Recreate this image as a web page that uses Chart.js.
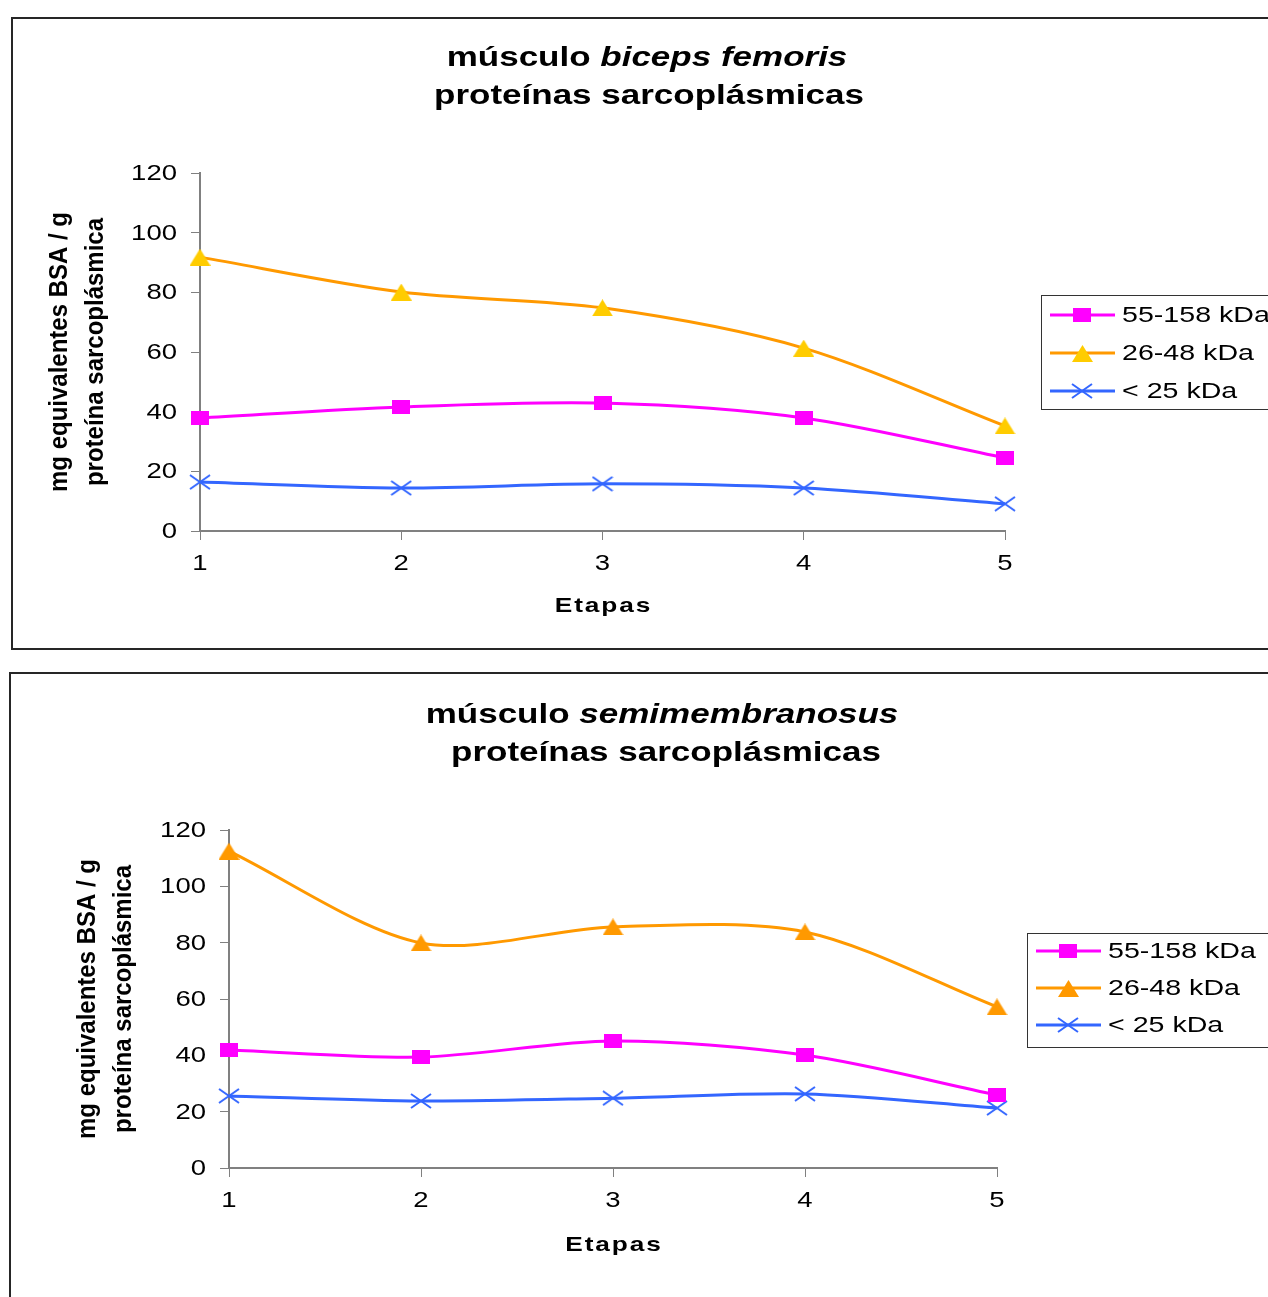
<!DOCTYPE html>
<html>
<head>
<meta charset="utf-8">
<script src="https://cdn.jsdelivr.net/npm/chart.js@4/dist/chart.umd.min.js"></script>
<style>
  html, body { margin: 0; padding: 0; background: #fff; overflow: hidden; }
  body { width: 1268px; height: 1297px; position: relative; }
  .box { position: absolute; border: 2px solid #262626; background: #fff; }
  canvas { position: absolute; left: 0; }
</style>
</head>
<body>
<div class="box" style="left:11px; top:17px; width:1300px; height:629px;"></div>
<div class="box" style="left:9px; top:672px; width:1300px; height:700px;"></div>
<canvas id="chartTop" style="top:0px"></canvas>
<canvas id="chartBottom" style="top:660px"></canvas>
<script>
// etapas (eje x)
const etapas = ['1', '2', '3', '4', '5'];
const seriesNames = ['55-158 kDa', '26-48 kDa', '< 25 kDa'];
const yTicks = [0, 20, 40, 60, 80, 100, 120];

// biceps femoris
const bf_55_158 = [37.9, 41.6, 42.9, 37.9, 24.5];
const bf_26_48 = [91.8, 80.1, 74.8, 61.3, 35.2];
const bf_25 = [16.4, 14.4, 15.8, 14.4, 9.1];

// semimembranosus
const sm_55_158 = [41.9, 39.4, 45.1, 40.1, 25.9];
const sm_26_48 = [112.5, 79.9, 85.6, 83.8, 57.2];
const sm_25 = [25.6, 23.8, 24.8, 26.3, 21.3];

const FONT = "'Liberation Sans', Arial, sans-serif";
const SX = 1.25; // el original está estirado en horizontal

// marcadores (algo más anchos que altos, como en el original)
function marker(kind, color) {
  const c = document.createElement('canvas');
  const g = c.getContext('2d');
  if (kind === 'square') {
    c.width = 18; c.height = 14;
    g.fillStyle = color; g.fillRect(0, 0, 18, 14);
  } else if (kind === 'tri') {
    c.width = 21; c.height = 17;
    g.fillStyle = color;
    g.beginPath(); g.moveTo(10.5, 0); g.lineTo(21, 17); g.lineTo(0, 17); g.closePath(); g.fill();
  } else {
    c.width = 22; c.height = 16;
    g.strokeStyle = color; g.lineWidth = 2;
    g.beginPath(); g.moveTo(1, 1); g.lineTo(21, 15); g.moveTo(21, 1); g.lineTo(1, 15); g.stroke();
  }
  return c;
}

function makeDatasets(a, b, c, triColor) {
  return [
    { label: seriesNames[0], data: a, borderColor: '#FF00FF', backgroundColor: '#FF00FF',
      pointStyle: marker('square', '#FF00FF'), clip: false },
    { label: seriesNames[1], data: b, borderColor: '#FF9900', backgroundColor: triColor,
      pointStyle: marker('tri', triColor), clip: false },
    { label: seriesNames[2], data: c, borderColor: '#3366FF', backgroundColor: '#3366FF',
      pointStyle: marker('cross', '#3366FF'), clip: false }
  ];
}

function sText(ctx, text, x, y, align, sx) {
  ctx.save();
  ctx.translate(x, y);
  ctx.scale(sx || SX, 1);
  ctx.textAlign = align;
  ctx.fillText(text, 0, 0);
  ctx.restore();
}

// dibuja títulos, etiquetas de ejes y leyenda
const decorPlugin = {
  id: 'decor',
  afterDraw(chart, args, o) {
    const ctx = chart.ctx;
    const ca = chart.chartArea;
    ctx.save();
    ctx.fillStyle = '#000';
    ctx.textBaseline = 'middle';

    // título, primera línea con parte en cursiva
    const f1 = 'bold 28px ' + FONT;
    const f2 = 'italic bold 28px ' + FONT;
    ctx.font = f1;
    const w1 = ctx.measureText(o.title1).width * SX;
    ctx.font = f2;
    const w2 = ctx.measureText(o.titleItalic).width * SX;
    const x0 = o.titleX - (w1 + w2) / 2;
    ctx.font = f1;
    sText(ctx, o.title1, x0, o.titleY1, 'left');
    ctx.font = f2;
    sText(ctx, o.titleItalic, x0 + w1, o.titleY1, 'left');
    ctx.font = f1;
    sText(ctx, o.title2, o.title2X, o.titleY2, 'center');

    // etiquetas de los ejes
    ctx.font = '22px ' + FONT;
    const ys = chart.scales.y;
    ys.ticks.forEach(t => sText(ctx, String(t.value), ca.left - 23, ys.getPixelForValue(t.value) + 1, 'right'));
    const xs = chart.scales.x;
    etapas.forEach((lab, i) => sText(ctx, lab, xs.getPixelForTick(i), ca.bottom + 33, 'center'));

    // título eje x
    ctx.font = 'bold 21px ' + FONT;
    ctx.letterSpacing = '1.5px';
    sText(ctx, 'Etapas', (ca.left + ca.right) / 2 + 1, o.xTitleY, 'center');
    ctx.letterSpacing = '0px';

    // título eje y (dos líneas)
    ctx.font = 'bold 24px ' + FONT;
    const cy = (ca.top + ca.bottom) / 2 + o.yTitleShift;
    ['mg equivalentes BSA / g', 'proteína sarcoplásmica'].forEach((txt, i) => {
      ctx.save();
      ctx.translate(o.yTitleX1 + i * 36, cy);
      ctx.rotate(-Math.PI / 2);
      ctx.scale(1, 1.05);
      ctx.textAlign = 'center';
      ctx.fillText(txt, 0, 0);
      ctx.restore();
    });

    // leyenda
    const L = o.legend;
    ctx.strokeStyle = '#333';
    ctx.lineWidth = 1;
    ctx.strokeRect(L.x + 0.5, L.y + 0.5, 400, L.h);
    ctx.font = '22px ' + FONT;
    chart.data.datasets.forEach((ds, i) => {
      const ry = L.y + L.row0 + i * L.rowGap;
      ctx.strokeStyle = ds.borderColor;
      ctx.lineWidth = 3;
      ctx.beginPath();
      ctx.moveTo(L.x + 9, ry);
      ctx.lineTo(L.x + 74, ry);
      ctx.stroke();
      const img = ds.pointStyle;
      ctx.drawImage(img, Math.round(L.x + 41 - img.width / 2), Math.round(ry - img.height / 2));
      ctx.fillStyle = '#000';
      sText(ctx, ds.label, L.x + 81, ry + 1, 'left', 1.3);
    });
    ctx.restore();
  }
};

function makeChart(id, h, datasets, pad, decor) {
  const cv = document.getElementById(id);
  cv.width = 1268;
  cv.height = h;
  return new Chart(cv.getContext('2d'), {
    type: 'line',
    data: { labels: etapas, datasets: datasets },
    options: {
      responsive: false,
      animation: false,
      layout: { padding: pad, autoPadding: false },
      elements: { line: { borderWidth: 3, tension: 0.3 } },
      plugins: { legend: { display: false }, title: { display: false }, tooltip: { enabled: false }, decor: decor },
      scales: {
        x: {
          offset: false,
          grid: { drawOnChartArea: false, drawTicks: true, tickLength: 9, color: '#808080' },
          border: { color: '#808080', width: 2 },
          ticks: { display: false },
          afterFit: s => { s.height = 100; }
        },
        y: {
          min: 0, max: 120,
          afterBuildTicks: s => { s.ticks = yTicks.map(v => ({ value: v })); },
          grid: { drawOnChartArea: false, drawTicks: true, tickLength: 9, color: '#808080' },
          border: { color: '#808080', width: 2 },
          ticks: { display: false },
          afterFit: s => { s.width = 60; }
        }
      }
    },
    plugins: [decorPlugin]
  });
}

makeChart('chartTop', 660, makeDatasets(bf_55_158, bf_26_48, bf_25, '#FFCC00'),
  { left: 140, right: 263, top: 173, bottom: 29 },
  { title1: 'músculo ', titleItalic: 'biceps femoris', titleX: 647, titleY1: 58,
    title2: 'proteínas sarcoplásmicas', title2X: 649, titleY2: 96,
    xTitleY: 606, yTitleX1: 60, yTitleShift: 0,
    legend: { x: 1041, y: 295, h: 114, row0: 20, rowGap: 38 } });

makeChart('chartBottom', 637, makeDatasets(sm_55_158, sm_26_48, sm_25, '#FF9900'),
  { left: 169, right: 271, top: 170, bottom: 29 },
  { title1: 'músculo ', titleItalic: 'semimembranosus', titleX: 662, titleY1: 55,
    title2: 'proteínas sarcoplásmicas', title2X: 666, titleY2: 93,
    xTitleY: 585, yTitleX1: 88, yTitleShift: 0,
    legend: { x: 1027, y: 273, h: 114, row0: 18, rowGap: 37 } });
</script>
</body>
</html>
